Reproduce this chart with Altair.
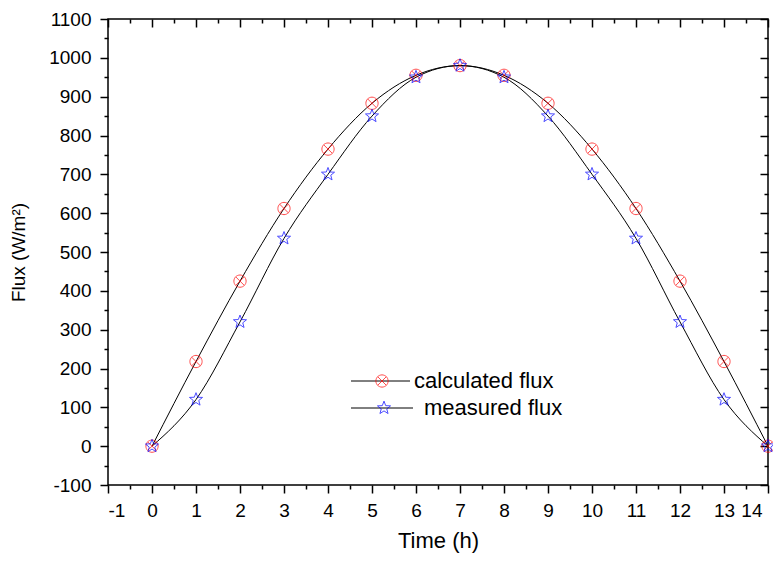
import altair as alt
import pandas as pd

time_h = list(range(0, 15))
calculated_flux = [0, 218, 425, 612, 765, 883, 955, 980, 955, 883, 765, 612, 425, 218, 0]
measured_flux = [0, 120, 320, 535, 700, 850, 950, 980, 950, 850, 700, 535, 320, 120, 0]

x_major = list(range(-1, 15))
x_minor = [v + 0.5 for v in range(-1, 14)]
y_major = list(range(-100, 1101, 100))
y_minor = [v + 50 for v in range(-100, 1100, 100)]

legend_labels = ["calculated flux", "measured flux"]

df = pd.DataFrame({"time": time_h, "calc": calculated_flux, "meas": measured_flux})

FONT = "Liberation Sans"
CIRCLE_X = ("M-1,0 A1,1 0 1,0 1,0 A1,1 0 1,0 -1,0 Z "
            "M-0.707,-0.707 L0.707,0.707 M-0.707,0.707 L0.707,-0.707")
STAR = ("M0,-1 L0.247,-0.34 L0.951,-0.309 L0.399,0.13 L0.588,0.809 L0,0.42 "
        "L-0.588,0.809 L-0.399,0.13 L-0.951,-0.309 L-0.247,-0.34 Z")

xscale = alt.Scale(domain=[-1, 14], nice=False, zero=False)
yscale = alt.Scale(domain=[-100, 1100], nice=False, zero=False)

common = dict(grid=False, tickColor="black", tickWidth=1.5, domain=False)


def ax(orient, values, size, offset=0, labels=False, title=None, lpad=8, tpad=12, tsize=22,
       extra=None):
    kw = dict(orient=orient, values=values, tickSize=size, labels=labels, **common)
    if offset:
        kw["offset"] = offset
    if labels:
        kw.update(labelFont=FONT, labelFontSize=19, labelColor="black", labelPadding=lpad,
                  labelExpr="datum.value + ''", labelOverlap=False)
    if title:
        kw.update(title=title, titleFont=FONT, titleFontSize=tsize, titleFontWeight="normal",
                  titleColor="black", titlePadding=tpad)
    else:
        kw["title"] = None
    if extra:
        kw.update(extra)
    return alt.Axis(**kw)


base = alt.Chart(df)

lineA = base.mark_line(color="black", strokeWidth=1, interpolate="monotone").encode(
    x=alt.X("time:Q", scale=xscale,
            axis=ax("bottom", x_major, 8, labels=True, title="Time (h)", lpad=8, tpad=10, tsize=22,
                    extra={"labelOffset": {"condition": {"test": "datum.value == 14", "value": -6},
                                           "value": 0}})),
    y=alt.Y("calc:Q", scale=yscale,
            axis=ax("left", y_major, 8, labels=True, title="Flux (W/m²)", lpad=9, tpad=20, tsize=19)),
)
lineB = base.mark_line(color="black", strokeWidth=1, interpolate="monotone").encode(
    x=alt.X("time:Q", scale=xscale, axis=ax("bottom", x_minor, 4)),
    y=alt.Y("meas:Q", scale=yscale, axis=ax("left", y_minor, 4)),
)
ptsC = base.mark_point(shape=CIRCLE_X, filled=False, size=150, color="#ff0000", strokeWidth=1).encode(
    x=alt.X("time:Q", scale=xscale, axis=ax("top", x_major, 8, offset=-8)),
    y=alt.Y("calc:Q", scale=yscale, axis=ax("right", y_major, 8, offset=-8)),
)
ptsM = base.mark_point(shape=STAR, filled=False, size=190, color="#0000ff", strokeWidth=1).encode(
    x=alt.X("time:Q", scale=xscale, axis=ax("top", x_minor, 4, offset=-4)),
    y=alt.Y("meas:Q", scale=yscale, axis=ax("right", y_minor, 4, offset=-4)),
)

# legend (drawn inside plot area)
leg = []
rows = [
    (legend_labels[0], 362, 243, 302, 274, 306, CIRCLE_X, "#ff0000", 150),
    (legend_labels[1], 389, 243, 305, 276, 316, STAR, "#0000ff", 190),
]
for label, yy, x1, x2, xm, xt, shp, col, sz in rows:
    leg.append(alt.Chart(df.head(1)).mark_rule(color="black", strokeWidth=1).encode(
        x=alt.value(x1), x2=alt.value(x2), y=alt.value(yy)))
    leg.append(alt.Chart(df.head(1)).mark_point(shape=shp, filled=False, size=sz, color=col,
                                                 strokeWidth=1).encode(
        x=alt.value(xm), y=alt.value(yy)))
    leg.append(alt.Chart(df.head(1)).mark_text(text=label, align="left", baseline="middle",
                                                font=FONT, fontSize=22, color="black").encode(
        x=alt.value(xt), y=alt.value(yy)))

chart = alt.layer(lineA, lineB, ptsC, ptsM, *leg).resolve_axis(
    x="independent", y="independent"
).properties(
    width=660, height=466,
    autosize=alt.AutoSizeParams(type="none"),
    padding={"left": 100, "top": 11, "right": 5, "bottom": 68},
    background="white",
).configure_view(stroke="black", strokeWidth=1.5)

chart.save("out.html", embed_options={"renderer": "svg", "actions": False})
